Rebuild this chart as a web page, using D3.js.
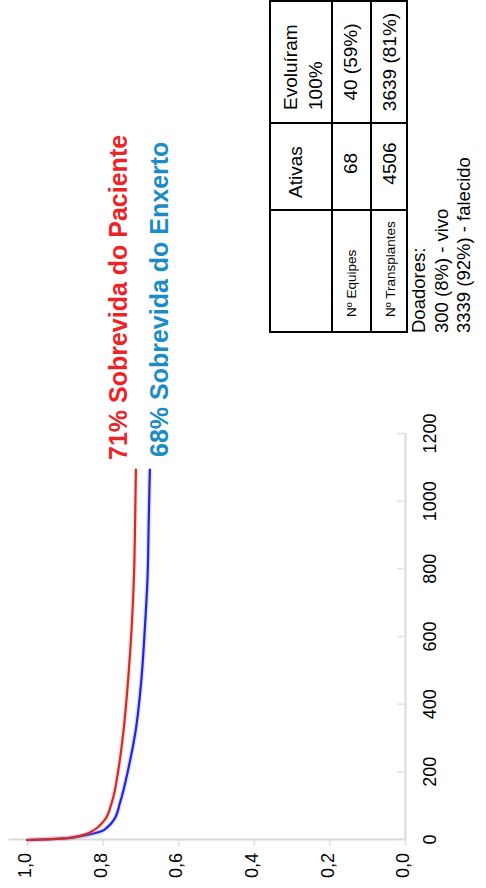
<!DOCTYPE html>
<html>
<head>
<meta charset="utf-8">
<script src="https://cdn.jsdelivr.net/npm/d3@7"></script>
<style>
  html, body { margin: 0; padding: 0; background: #fff; }
  svg { display: block; font-family: "Liberation Sans", Arial, sans-serif; }
</style>
</head>
<body>
<div id="chart"></div>
<script>
// survival curves (days since transplant)
const days = [0, 2, 5, 10, 15, 25, 40, 60, 110, 210, 320, 480, 630, 780, 940, 1095];
const patientSurv = [1.0, 0.95, 0.90, 0.87, 0.85, 0.829, 0.81, 0.794, 0.776, 0.758, 0.745, 0.732, 0.723, 0.717, 0.714, 0.712];
const graftSurv = [1.0, 0.95, 0.90, 0.865, 0.84, 0.805, 0.785, 0.770, 0.754, 0.732, 0.713, 0.697, 0.688, 0.681, 0.678, 0.675];

const dayTicks = [0, 200, 400, 600, 800, 1000, 1200];
const survTicks = [0, 0.2, 0.4, 0.6, 0.8, 1.0];

const seriesLabels = ["71% Sobrevida do Paciente", "68% Sobrevida do Enxerto"];

// table
const tableHeader = ["", "Ativas", ["Evoluíram", "100%"]];
const tableRows = [
  ["Nº Equipes", "68", "40 (59%)"],
  ["Nº Transplantes", "4506", "3639 (81%)"]
];
const donorLines = ["Doadores:", "300 (8%) - vivo", "3339 (92%) - falecido"];

const W = 486, H = 888;

const svg = d3.select("#chart").append("svg")
  .attr("width", W)
  .attr("height", H);

svg.append("rect").attr("width", W).attr("height", H).attr("fill", "#fff");

// the whole slide is turned 90deg counter-clockwise
const g = svg.append("g")
  .attr("transform", `translate(0,${H}) rotate(-90)`);

const x = d3.scaleLinear().domain([0, 1200]).range([48, 454]);
const y = d3.scaleLinear().domain([0, 1.05]).range([405, 405 - 378 * 1.05]);

const ptFmt = d3.formatLocale({decimal: ",", thousands: ".", grouping: [3], currency: ["", ""]}).format(".1f");

// axes
const xAxis = g.append("g")
  .attr("transform", `translate(0,${y(0)})`)
  .call(d3.axisBottom(x).tickValues(dayTicks).tickSize(-8).tickSizeOuter(0).tickPadding(18).tickFormat(d3.format("d")));

const yAxis = g.append("g")
  .attr("transform", `translate(${x(0)},0)`)
  .call(d3.axisLeft(y).tickValues(survTicks).tickSize(6).tickSizeOuter(0).tickPadding(7).tickFormat(ptFmt));

[xAxis, yAxis].forEach(a => {
  a.select(".domain").attr("stroke", "#d9d9d9").attr("stroke-width", 2);
  a.selectAll(".tick line").attr("stroke", "#e2e2e2").attr("stroke-width", 1.5);
  a.selectAll("text").attr("fill", "#000").attr("font-size", 18)
    .attr("font-family", "Liberation Sans, Arial, sans-serif");
});
yAxis.selectAll("text").attr("dy", "0.2em");

// curves
const line = d3.line()
  .x(d => x(d[0]))
  .y(d => y(d[1]))
  .curve(d3.curveMonotoneX);

const curves = [
  {vals: graftSurv, color: "#2626cc", halo: "#8080ff"},
  {vals: patientSurv, color: "#c8302e", halo: "#ff8a80"}
];

curves.forEach(c => {
  const pts = days.map((d, i) => [d, c.vals[i]]);
  g.append("path")
    .attr("d", line(pts))
    .attr("fill", "none")
    .attr("stroke", c.halo)
    .attr("stroke-opacity", 0.25)
    .attr("stroke-width", 5);
  g.append("path")
    .attr("d", line(pts))
    .attr("fill", "none")
    .attr("stroke", c.color)
    .attr("stroke-width", 2.2)
    .attr("stroke-linecap", "round");
});

// big labels
g.append("text")
  .attr("x", 428).attr("y", 127)
  .attr("font-size", 25).attr("font-weight", "bold")
  .attr("fill", "#ec2327")
  .text(seriesLabels[0]);

g.append("text")
  .attr("x", 431).attr("y", 168)
  .attr("font-size", 25).attr("font-weight", "bold")
  .attr("fill", "#1b8cc6")
  .text(seriesLabels[1]);

// table
const colEdges = [556, 678, 765, 887];
const rowEdges = [270, 332, 371, 407];
const tbl = g.append("g");

tbl.append("rect")
  .attr("x", colEdges[0]).attr("y", rowEdges[0])
  .attr("width", colEdges[3] - colEdges[0])
  .attr("height", rowEdges[3] - rowEdges[0])
  .attr("fill", "none").attr("stroke", "#000").attr("stroke-width", 2);

[colEdges[1], colEdges[2]].forEach(cx => {
  tbl.append("line")
    .attr("x1", cx).attr("x2", cx)
    .attr("y1", rowEdges[0]).attr("y2", rowEdges[3])
    .attr("stroke", "#000").attr("stroke-width", 2);
});
[rowEdges[1], rowEdges[2]].forEach(ry => {
  tbl.append("line")
    .attr("x1", colEdges[0]).attr("x2", colEdges[3])
    .attr("y1", ry).attr("y2", ry)
    .attr("stroke", "#000").attr("stroke-width", 2);
});

// header cells
tbl.append("text")
  .attr("x", 716).attr("y", 302)
  .attr("text-anchor", "middle")
  .attr("font-size", 19)
  .text(tableHeader[1]);

tbl.append("text")
  .attr("x", 778).attr("y", 297)
  .attr("font-size", 19)
  .selectAll("tspan")
  .data(tableHeader[2])
  .join("tspan")
  .attr("x", 778)
  .attr("dy", (d, i) => i === 0 ? 0 : 25)
  .text(d => d);

// body rows
const rowBase = [357, 396];
tableRows.forEach((row, i) => {
  tbl.append("text")
    .attr("x", 571).attr("y", rowBase[i] - 1)
    .attr("font-size", 13.5)
    .text(row[0]);
  tbl.append("text")
    .attr("x", (colEdges[1] + colEdges[2]) / 2 + 3).attr("y", rowBase[i])
    .attr("text-anchor", "middle")
    .attr("font-size", 19)
    .text(row[1]);
  tbl.append("text")
    .attr("x", (colEdges[2] + colEdges[3]) / 2).attr("y", rowBase[i])
    .attr("text-anchor", "middle")
    .attr("font-size", 19)
    .text(row[2]);
});

// donors note
const donorBase = [425, 447.5, 470];
donorLines.forEach((t, i) => {
  g.append("text")
    .attr("x", 555).attr("y", donorBase[i])
    .attr("font-size", 18.5)
    .text(t);
});
</script>
</body>
</html>
